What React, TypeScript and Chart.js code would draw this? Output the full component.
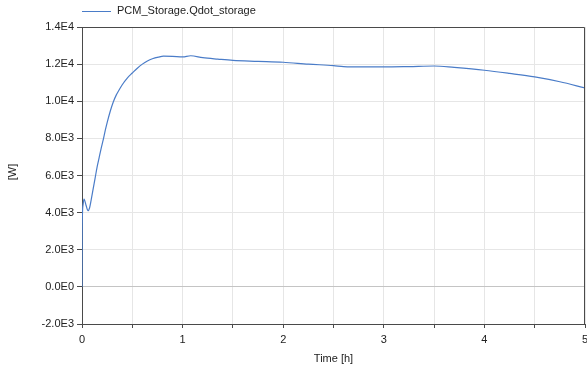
import React, { useEffect, useRef } from "react";
import { Chart, registerables } from "chart.js";

Chart.register(...registerables);

// Simulated heat flow into the PCM storage over time
const seriesLabel = "PCM_Storage.Qdot_storage";
const timeHours = [
  0, 0.002, 0.01, 0.02, 0.04, 0.06, 0.075, 0.09, 0.11, 0.13, 0.15, 0.17, 0.19, 0.21, 0.23, 0.25,
  0.28, 0.31, 0.34, 0.37, 0.4, 0.45, 0.5, 0.55, 0.6, 0.65, 0.7, 0.76, 0.81, 0.9, 1.0, 1.08,
  1.2, 1.35, 1.5, 1.75, 2.0, 2.25, 2.5, 2.6, 2.8, 3.0, 3.25, 3.5, 3.7, 4.0, 4.25, 4.5, 4.75, 5.0,
];
const heatFlowW = [
  0, 3300, 4400, 4730, 4400, 4100, 4250, 4650, 5250, 5850, 6450, 6950, 7450, 7900, 8400, 8850,
  9450, 9950, 10330, 10620, 10890, 11250, 11520, 11780, 12000, 12170, 12290, 12380, 12430, 12420, 12390, 12450,
  12350, 12270, 12200, 12150, 12100, 12000, 11920, 11870, 11850, 11850, 11870, 11900, 11820, 11670, 11500, 11310, 11050, 10720,
];
const xTickStep = 0.5;
const yTickStep = 2000;
const xMin = 0;
const xMax = 5;
const yMin = -2000;
const yMax = 14000;

const LINE_COLOR = "#4a7cc8";
const AXIS_COLOR = "#4a4a4a";
const GRID_COLOR = "#e6e6e6";
const TEXT_COLOR = "#222222";
const FONT_FAMILY = "'Liberation Sans', Arial, sans-serif";

// Engineering-style labels: 1.4E4, 0.0E0, -2.0E3
function sciLabel(v: number): string {
  if (v === 0) return "0.0E0";
  const sign = v < 0 ? "-" : "";
  const a = Math.abs(v);
  const exp = Math.floor(Math.log10(a) + 1e-9);
  const mant = a / Math.pow(10, exp);
  return `${sign}${mant.toFixed(1)}E${exp}`;
}

const framePlugin = {
  id: "frameAndTitles",
  afterDraw(chart: any) {
    const { ctx, chartArea } = chart;
    const { left, right, top, bottom } = chartArea;
    ctx.save();
    // frame around plot area
    ctx.strokeStyle = AXIS_COLOR;
    ctx.lineWidth = 1;
    ctx.beginPath();
    ctx.moveTo(left, top + 0.5);
    ctx.lineTo(right - 0.5, top + 0.5);
    ctx.lineTo(right - 0.5, bottom);
    ctx.stroke();

    ctx.fillStyle = TEXT_COLOR;
    ctx.font = `11px ${FONT_FAMILY}`;
    // legend
    ctx.strokeStyle = LINE_COLOR;
    ctx.beginPath();
    ctx.moveTo(82, 11.5);
    ctx.lineTo(111, 11.5);
    ctx.stroke();
    ctx.textAlign = "left";
    ctx.textBaseline = "middle";
    ctx.fillText(seriesLabel, 117, 11);

    // axis titles
    ctx.textAlign = "center";
    ctx.fillText("Time [h]", (left + right) / 2, 359);
    ctx.translate(13, 172);
    ctx.rotate(-Math.PI / 2);
    ctx.fillText("[W]", 0, 0);
    ctx.restore();
  },
};

export default function App() {
  const canvasRef = useRef<HTMLCanvasElement | null>(null);

  useEffect(() => {
    document.body.style.margin = "0";
    const canvas = canvasRef.current;
    if (!canvas) return;
    const points = timeHours.map((t, i) => ({ x: t, y: heatFlowW[i] }));
    const chart = new Chart(canvas, {
      type: "line",
      data: {
        datasets: [
          {
            label: seriesLabel,
            data: points,
            borderColor: LINE_COLOR,
            borderWidth: 1.2,
            pointRadius: 0,
            fill: false,
            cubicInterpolationMode: "monotone",
          },
        ],
      },
      options: {
        animation: false,
        responsive: false,
        maintainAspectRatio: false,
        layout: { padding: { left: 0, right: 2, top: 27, bottom: 0 } },
        plugins: {
          legend: { display: false },
          tooltip: { enabled: false },
        },
        scales: {
          x: {
            type: "linear",
            min: xMin,
            max: xMax,
            afterFit(scale: any) {
              scale.height = 46;
              scale.paddingLeft = 0;
              scale.paddingRight = 0;
            },
            ticks: {
              stepSize: xTickStep,
              autoSkip: false,
              maxRotation: 0,
              padding: 5,
              color: TEXT_COLOR,
              font: { family: FONT_FAMILY, size: 11 },
              callback: (v: any) => (Number.isInteger(Number(v)) ? String(v) : ""),
            },
            grid: {
              color: GRID_COLOR,
              tickColor: AXIS_COLOR,
              tickLength: 4,
              drawTicks: true,
            },
            border: { color: AXIS_COLOR, width: 1 },
          },
          y: {
            type: "linear",
            min: yMin,
            max: yMax,
            afterFit(scale: any) {
              scale.width = 82;
              scale.paddingTop = 0;
              scale.paddingBottom = 0;
            },
            ticks: {
              stepSize: yTickStep,
              padding: 3,
              color: TEXT_COLOR,
              font: { family: FONT_FAMILY, size: 11 },
              callback: (v: any) => sciLabel(Number(v)),
            },
            grid: {
              color: (c: any) => (c.tick && c.tick.value === 0 ? "#c4c4c4" : GRID_COLOR),
              tickColor: AXIS_COLOR,
              tickLength: 5,
            },
            border: { color: AXIS_COLOR, width: 1 },
          },
        },
      },
      plugins: [framePlugin],
    });
    return () => chart.destroy();
  }, []);

  return (
    <div style={{ position: "fixed", left: 0, top: 0, width: 587, height: 370, background: "#fff" }}>
      <canvas ref={canvasRef} width={587} height={370} style={{ width: 587, height: 370 }} />
    </div>
  );
}
